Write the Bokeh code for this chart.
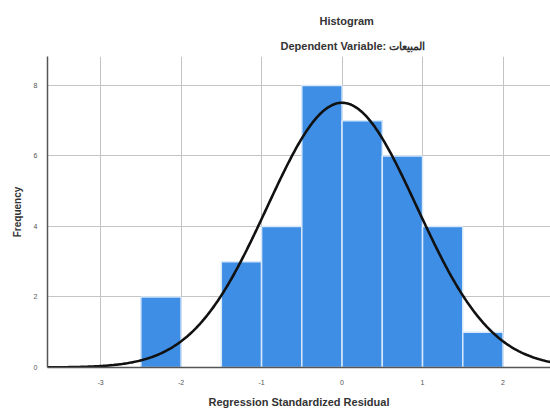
import numpy as np
from bokeh.plotting import figure
from bokeh.models import FixedTicker, ColumnDataSource, Title
from bokeh.embed import file_html
from bokeh.resources import INLINE

# Histogram data (bin left edges, width 0.5)
bin_left = [-2.5, -1.5, -1.0, -0.5, 0.0, 0.5, 1.0, 1.5]
counts = [2, 3, 4, 8, 7, 6, 4, 1]
bin_width = 0.5
x_ticks = [-3, -2, -1, 0, 1, 2]
x_tick_labels = ["-3", "-2", "-1", "0", "1", "2"]
y_ticks = [0, 2, 4, 6, 8]

# Fitted normal curve parameters
curve_mean = 0.0
curve_sd = 0.93
n_total = sum(counts)

FONT = "Liberation Sans"

p = figure(width=550, height=410, x_range=(-3.66, 2.59), y_range=(0, 8.82),
           output_backend="svg", toolbar_location=None,
           min_border_left=47, min_border_right=0, min_border_top=56, min_border_bottom=43)
p.outline_line_color = None
p.background_fill_color = "white"

src = ColumnDataSource(dict(left=bin_left,
                            right=[b + bin_width for b in bin_left],
                            top=counts, bottom=[0] * len(counts)))
p.quad(left="left", right="right", top="top", bottom="bottom", source=src,
       fill_color="#3e8ee6", line_color="#d6e8fa", line_width=1.5)

xs = np.linspace(-3.66, 2.59, 400)
ys = n_total * bin_width / (curve_sd * np.sqrt(2 * np.pi)) * np.exp(-0.5 * ((xs - curve_mean) / curve_sd) ** 2)
p.line(xs, ys, line_color="#111111", line_width=2.6)

p.xaxis.ticker = FixedTicker(ticks=x_ticks)
p.xaxis.major_label_overrides = {t: l for t, l in zip(x_ticks, x_tick_labels)}
p.yaxis.ticker = FixedTicker(ticks=y_ticks)
for ax in (p.xaxis, p.yaxis):
    ax.axis_line_color = "#555555"
    ax.axis_line_width = 1.5
    ax.major_tick_line_color = None
    ax.minor_tick_line_color = None
    ax.major_label_text_font = FONT
    ax.major_label_text_font_size = "7px"
    ax.major_label_text_color = "#555555"
    ax.axis_label_text_font = FONT
    ax.axis_label_text_font_style = "bold"
    ax.axis_label_text_color = "#333333"
p.xaxis.major_label_standoff = 6
p.yaxis.major_label_standoff = 4
p.xaxis.axis_label = "Regression Standardized Residual"
p.xaxis.axis_label_text_font_size = "11px"
p.xaxis.axis_label_standoff = 8
p.yaxis.axis_label = "Frequency"
p.yaxis.axis_label_text_font_size = "10px"
p.yaxis.axis_label_standoff = 8

p.xgrid.ticker = FixedTicker(ticks=x_ticks)
p.ygrid.ticker = FixedTicker(ticks=y_ticks[1:])
p.grid.grid_line_color = "#c4c4c4"
p.grid.grid_line_width = 1
p.grid.level = "underlay"

p.add_layout(Title(text="Dependent Variable: المبيعات", align="left", offset=233,
                   text_font=FONT, text_font_style="bold", text_font_size="11px",
                   text_color="#333333", standoff=10), "above")
p.add_layout(Title(text="Histogram", align="left", offset=272,
                   text_font=FONT, text_font_style="bold", text_font_size="11px",
                   text_color="#333333", standoff=11), "above")

open("out.html", "w").write(file_html(p, INLINE))
